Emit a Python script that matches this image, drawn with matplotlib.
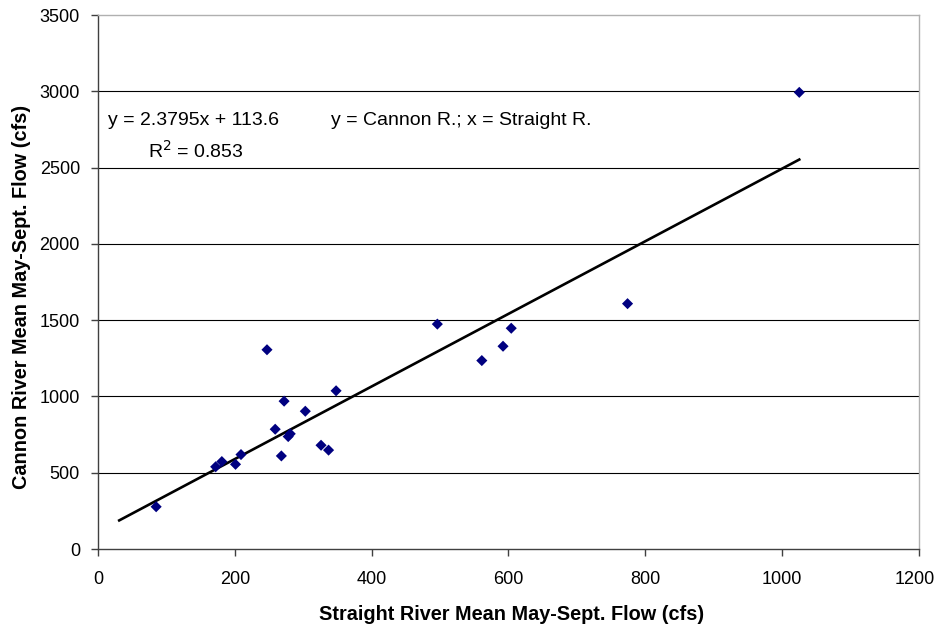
import matplotlib
matplotlib.use("Agg")
import matplotlib.pyplot as plt
import matplotlib.transforms as mtransforms
import numpy as np

plt.rcParams['font.family'] = ['Liberation Sans', 'DejaVu Sans']

# Data
straight_flow = [85, 172, 181, 201, 209, 247, 259, 268, 272, 278, 281, 303,
                 326, 337, 348, 496, 561, 592, 604, 774, 1025]
cannon_flow = [277, 539, 573, 555, 619, 1306, 785, 610, 969, 737, 755, 903,
               680, 648, 1037, 1474, 1235, 1329, 1447, 1608, 2993]

trend_slope = 2.3795
trend_intercept = 113.6
trend_x_range = [31, 1025]

x_ticks = [0, 200, 400, 600, 800, 1000, 1200]
y_ticks = [0, 500, 1000, 1500, 2000, 2500, 3000, 3500]

W, H = 937, 627
fig = plt.figure(figsize=(W / 100, H / 100), dpi=100)
ax_bottom = 549
ax = fig.add_axes([98 / W, 1 - ax_bottom / H, (919 - 98) / W, (ax_bottom - 15) / H])

ax.set_xlim(0, 1200)
ax.set_ylim(0, 3500)
ax.set_xticks(x_ticks)
ax.set_yticks(y_ticks)

for yv in y_ticks[1:-1]:
    ax.axhline(yv, color='black', lw=0.8, zorder=1)

ax.scatter(straight_flow, cannon_flow, marker='D', s=32, color='#000080',
           edgecolors='none', zorder=3)

tx = np.array(trend_x_range, dtype=float)
ax.plot(tx, trend_slope * tx + trend_intercept, color='black', lw=1.9, zorder=2)

for s in ['top', 'right']:
    ax.spines[s].set_color('#b0b0b0')
    ax.spines[s].set_linewidth(1.0)
for s in ['left', 'bottom']:
    ax.spines[s].set_color('#404040')
    ax.spines[s].set_linewidth(1.0)

ax.tick_params(axis='both', direction='out', length=5, width=1.0,
               color='#404040', labelsize=13, labelcolor='black')
ax.tick_params(axis='x', pad=11)
ax.tick_params(axis='y', pad=8)

# nudge the last x tick label so it stays inside the figure
fig.canvas.draw()
last_lbl = ax.get_xticklabels()[-1]
last_lbl.set_transform(last_lbl.get_transform() +
                       mtransforms.ScaledTranslation(-4 / 100, 0, fig.dpi_scale_trans))

ax.set_xlabel('Straight River Mean May-Sept. Flow (cfs)', fontsize=14.3,
              fontweight='bold')
ax.set_ylabel('Cannon River Mean May-Sept. Flow (cfs)', fontsize=14.3,
              fontweight='bold')
ax.xaxis.set_label_coords((512 - 98) / (919 - 98), -(615 - ax_bottom) / (ax_bottom - 15))
ax.yaxis.set_label_coords(-(98 - 22) / (919 - 98), (ax_bottom - 297) / (ax_bottom - 15))
ax.xaxis.label.set_verticalalignment('center')
ax.yaxis.label.set_verticalalignment('center')

ax.text(14.6, 2807, 'y = 2.3795x + 113.6', fontsize=14, va='center', ha='left')
ax.text(340, 2807, 'y = Cannon R.; x = Straight R.', fontsize=14, va='center', ha='left')
ax.text(73, 2607, r'R$^2$ = 0.853', fontsize=14, va='center', ha='left')

fig.savefig('out.png', dpi=100)
